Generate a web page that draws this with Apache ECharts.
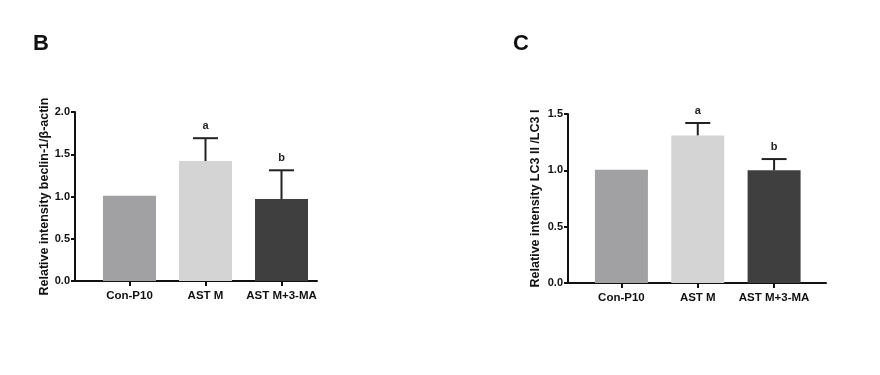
<!DOCTYPE html>
<html>
<head>
<meta charset="utf-8">
<script src="https://cdn.jsdelivr.net/npm/echarts@6/dist/echarts.min.js"></script>
<style>
  html, body { margin: 0; padding: 0; background: #fff; }
  #chart { width: 880px; height: 375px; }
</style>
</head>
<body>
<div id="chart"></div>
<script>
const categories = ['Con-P10', 'AST M', 'AST M+3-MA']
const beclinMean = [1.01, 1.42, 0.97]
const beclinSd = [0, 0.27, 0.34]
const lc3Mean = [1.005, 1.31, 1.0]
const lc3Sd = [0, 0.11, 0.10]
const sigLetters = ['', 'a', 'b']
const barColors = ['#a1a1a3', '#d4d4d4', '#3f3f3f']
const beclinTicks = [0, 0.5, 1, 1.5, 2]
const lc3Ticks = [0, 0.5, 1, 1.5]

const font = 'Liberation Sans, Arial, sans-serif'
const chart = echarts.init(document.getElementById('chart'))

function xAxisFor(gridIndex, min, max) {
  return {
    gridIndex,
    type: 'value',
    min,
    max,
    splitLine: { show: false },
    axisLine: { onZero: false, lineStyle: { color: '#111', width: 2 } },
    axisTick: { customValues: [0, 1, 2], length: 5, lineStyle: { color: '#111', width: 2 } },
    axisLabel: {
      customValues: [0, 1, 2],
      formatter: v => categories[Math.round(v)],
      color: '#111', fontWeight: 'bold', fontSize: 11.5, fontFamily: font, margin: 9
    }
  }
}

function yAxisFor(gridIndex, max, ticks, name, nameGap) {
  return {
    gridIndex,
    type: 'value',
    min: 0,
    max,
    interval: 0.5,
    name,
    nameLocation: 'middle',
    nameGap,
    nameTextStyle: { color: '#111', fontWeight: 'bold', fontSize: 12.5, fontFamily: font },
    splitLine: { show: false },
    axisLine: { show: true, onZero: false, lineStyle: { color: '#111', width: 2 } },
    axisTick: { show: true, length: 4, lineStyle: { color: '#111', width: 2 } },
    axisLabel: {
      formatter: v => ticks.includes(v) ? v.toFixed(1) : '',
      color: '#111', fontWeight: 'bold', fontSize: 11, fontFamily: font, margin: 5
    }
  }
}

function barSeries(idx, mean) {
  return {
    type: 'bar',
    xAxisIndex: idx,
    yAxisIndex: idx,
    barWidth: 53,
    silent: true,
    data: mean.map((v, i) => ({ value: [i, v], itemStyle: { color: barColors[i] } }))
  }
}

function errorSeries(idx, mean, sd) {
  return {
    type: 'custom',
    xAxisIndex: idx,
    yAxisIndex: idx,
    silent: true,
    z: 3,
    data: mean.map((v, i) => [i, v, v + sd[i]]),
    renderItem(params, api) {
      const base = api.coord([api.value(0), api.value(1)])
      const top = api.coord([api.value(0), api.value(2)])
      const letter = sigLetters[params.dataIndex]
      const children = []
      if (top[1] < base[1] - 0.5) {
        children.push({
          type: 'line',
          shape: { x1: top[0], y1: base[1], x2: top[0], y2: top[1] },
          style: { stroke: '#222', lineWidth: 2 }
        })
        children.push({
          type: 'line',
          shape: { x1: top[0] - 12.5, y1: top[1], x2: top[0] + 12.5, y2: top[1] },
          style: { stroke: '#222', lineWidth: 2 }
        })
      }
      if (letter) {
        children.push({
          type: 'text',
          style: {
            text: letter, x: top[0], y: top[1] - 7,
            textAlign: 'center', textVerticalAlign: 'bottom',
            fill: '#222', font: 'bold 11px ' + font
          }
        })
      }
      return { type: 'group', children }
    }
  }
}

chart.setOption({
  animation: false,
  title: [
    { text: 'B', left: 28, top: 28, textStyle: { fontSize: 22, fontWeight: 'bold', color: '#111', fontFamily: font } },
    { text: 'C', left: 508, top: 28, textStyle: { fontSize: 22, fontWeight: 'bold', color: '#111', fontFamily: font } }
  ],
  grid: [
    { left: 75, top: 112, width: 242, height: 169 },
    { left: 568, top: 114, width: 258, height: 169 }
  ],
  xAxis: [
    xAxisFor(0, -0.717, 2.467),
    xAxisFor(1, -0.70, 2.68)
  ],
  yAxis: [
    yAxisFor(0, 2, beclinTicks, 'Relative intensity beclin-1/β-actin', 22),
    yAxisFor(1, 1.5, lc3Ticks, 'Relative intensity LC3 II /LC3 I', 26)
  ],
  series: [
    barSeries(0, beclinMean),
    errorSeries(0, beclinMean, beclinSd),
    barSeries(1, lc3Mean),
    errorSeries(1, lc3Mean, lc3Sd)
  ]
})
</script>
</body>
</html>
